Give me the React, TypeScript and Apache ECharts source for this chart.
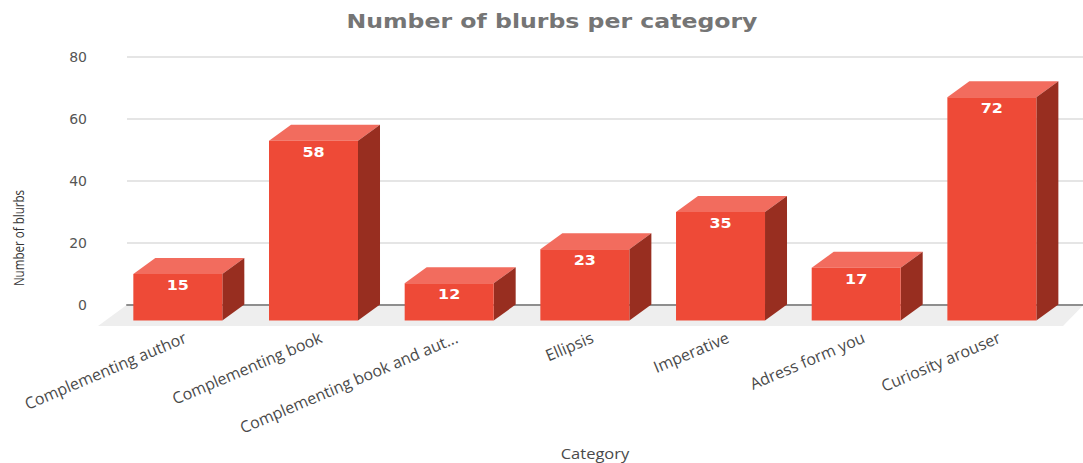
import React, { useEffect, useRef } from "react";
import * as echarts from "echarts";

const categories = [
  "Complementing author",
  "Complementing book",
  "Complementing book and aut...",
  "Ellipsis",
  "Imperative",
  "Adress form you",
  "Curiosity arouser",
];
const blurbCounts = [15, 58, 12, 23, 35, 17, 72];
const yTicks = { min: 0, max: 80, interval: 20 };

// Perspective offset between the front of a column and the back wall
const DEPTH_X = 22;
const DEPTH_Y = 16;
const HALF_WIDTH = 44.5;
// Rotated category labels end a little to the right of their column's centre
const LABEL_LEAD = 7.5;

const FRONT = "#EE4A37";
const TOP = "#F26C5E";
const SIDE = "#982E20";
const FLOOR = "#EEEEEE";

function renderColumn(_params: any, api: any) {
  const index = api.value(0);
  const value = api.value(1);
  const [tickX, backTop] = api.coord([index, value]);
  const backBase = api.coord([index, 0])[1];
  const cx = tickX - LABEL_LEAD;
  const left = cx - HALF_WIDTH;
  const right = cx + HALF_WIDTH;
  const frontTop = backTop + DEPTH_Y;
  const frontBase = backBase + DEPTH_Y;
  return {
    type: "group",
    children: [
      {
        type: "polygon",
        shape: {
          points: [
            [left, frontTop],
            [left + DEPTH_X, backTop],
            [right + DEPTH_X, backTop],
            [right, frontTop],
          ],
        },
        style: { fill: TOP },
      },
      {
        type: "polygon",
        shape: {
          points: [
            [right, frontTop],
            [right + DEPTH_X, backTop],
            [right + DEPTH_X, backBase],
            [right, frontBase],
          ],
        },
        style: { fill: SIDE },
      },
      {
        type: "rect",
        shape: { x: left, y: frontTop, width: right - left, height: frontBase - frontTop },
        style: { fill: FRONT },
      },
      {
        type: "text",
        x: cx,
        y: frontTop + 11.5,
        scaleX: 1.14,
        style: {
          text: String(value),
          x: 0,
          y: 0,
          fill: "#FFFFFF",
          font: 'bold 14px "DejaVu Sans"',
          align: "center",
          verticalAlign: "middle",
        },
      },
    ],
  };
}

function renderFloor(params: any, api: any) {
  const { x, width } = params.coordSys;
  const y0 = api.coord([0, 0])[1];
  const right = x + width;
  return {
    type: "polygon",
    shape: {
      points: [
        [x - 1, y0 + 1],
        [right, y0 + 1],
        [right - 20, y0 + 21.5],
        [x - 29, y0 + 21.5],
      ],
    },
    style: { fill: FLOOR },
  };
}

export default function App() {
  const ref = useRef<HTMLDivElement>(null);

  useEffect(() => {
    const chart = echarts.init(ref.current!, undefined, { renderer: "svg" });
    chart.setOption({
      animation: false,
      backgroundColor: "#FFFFFF",
      // The back wall carries the value axis; the columns stand on a grid shifted towards the viewer
      grid: [
        { left: 127, right: 0, top: 56.5, height: 248, containLabel: false },
        { left: 117.5, width: 949.7, top: 56.5, height: 248, containLabel: false },
      ],
      xAxis: [
        {
          type: "category",
          gridIndex: 0,
          data: categories,
          axisLine: { show: true, lineStyle: { color: "#8E8E8E", width: 2 } },
          axisTick: { show: false },
          axisLabel: { show: false },
          z: 2,
        },
        {
          type: "category",
          gridIndex: 1,
          data: categories,
          axisLine: { show: false },
          axisTick: { show: false },
          axisLabel: {
            interval: 0,
            rotate: 23,
            margin: 32,
            hideOverlap: false,
            fontFamily: "Open Sans",
            fontSize: 16,
            color: "#4A4A4A",
          },
        },
      ],
      yAxis: [
        {
          type: "value",
          gridIndex: 0,
          ...yTicks,
          axisLine: { show: false },
          axisTick: { show: false },
          axisLabel: {
            margin: 40,
            fontFamily: "DejaVu Sans",
            fontSize: 14,
            color: "#555555",
          },
          splitLine: { showMinLine: false, lineStyle: { color: "#DDDDDD", width: 1.5 } },
        },
        {
          type: "value",
          gridIndex: 1,
          ...yTicks,
          show: false,
        },
      ],
      series: [
        {
          type: "custom",
          xAxisIndex: 0,
          yAxisIndex: 0,
          z: 1,
          silent: true,
          renderItem: renderFloor,
          data: [[0, 0]],
        },
        {
          type: "custom",
          name: "Number of blurbs",
          xAxisIndex: 1,
          yAxisIndex: 1,
          z: 3,
          renderItem: renderColumn,
          encode: { x: 0, y: 1 },
          data: blurbCounts.map((v, i) => [i, v]),
        },
      ],
      graphic: [
        {
          type: "text",
          x: 552,
          y: 21,
          scaleX: 1.18,
          style: {
            text: "Number of blurbs per category",
            fill: "#757575",
            font: 'bold 20px "DejaVu Sans"',
            align: "center",
            verticalAlign: "middle",
          },
        },
        {
          type: "text",
          x: 19,
          y: 238,
          rotation: Math.PI / 2,
          scaleY: 1.2,
          style: {
            text: "Number of blurbs",
            fill: "#333333",
            font: '11.6px "Open Sans"',
            align: "center",
            verticalAlign: "middle",
          },
        },
        {
          type: "text",
          x: 595,
          y: 454,
          scaleX: 1.18,
          style: {
            text: "Category",
            fill: "#4A4A4A",
            font: '14px "Open Sans"',
            align: "center",
            verticalAlign: "middle",
          },
        },
      ],
    });
    return () => chart.dispose();
  }, []);

  return (
    <div
      ref={ref}
      style={{ position: "fixed", left: 0, top: 0, width: 1083, height: 463 }}
    />
  );
}
